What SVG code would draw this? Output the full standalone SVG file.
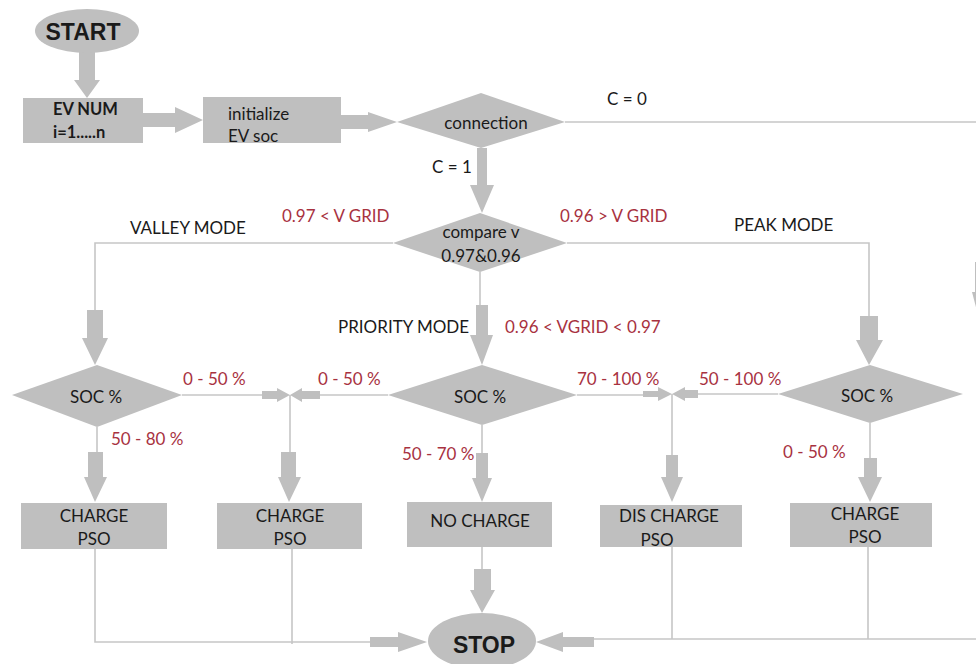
<svg xmlns="http://www.w3.org/2000/svg" width="976" height="664" viewBox="0 0 976 664">
  <style>
    .shape { fill: #bfbfbf; }
    .link { fill: none; stroke: #c6c6c6; stroke-width: 1.6; }
    .block { fill: #bfbfbf; }
    text { font-family: Lato, "Liberation Sans", sans-serif; font-size: 17px; fill: #1a1a1a; }
    .bold { font-weight: bold; font-size: 16.5px; }
    .term { font-family: "Liberation Sans", Arial, sans-serif; font-weight: bold; font-size: 23px; }
    .mid { text-anchor: middle; }
    .cond { fill: #a8323f; }
  </style>
  <rect width="976" height="664" fill="#ffffff"/>

  <!-- connectors: thin routing lines and block arrows -->
  <g id="connectors">
    <path class="link" d="M565 122 H976" stroke-width="2"/>
    <path class="link" d="M393 243 H95 V312"/>
    <path class="link" d="M567 243 H869 V318"/>
    <path class="link" d="M480 272 V307"/>
    <path class="link" d="M182 395 H264"/>
    <path class="link" d="M388 395 H318"/>
    <path class="link" d="M290 395 V454"/>
    <path class="link" d="M97 427 V454"/>
    <path class="link" d="M577 395 H645"/>
    <path class="link" d="M778 394 H696"/>
    <path class="link" d="M672 394 V457"/>
    <path class="link" d="M482 425 V455"/>
    <path class="link" d="M870 423 V460"/>
    <path class="link" d="M95 549 V642 H372"/>
    <path class="link" d="M292 549 V644"/>
    <path class="link" d="M672 547 V639"/>
    <path class="link" d="M868 547 V639"/>
    <path class="link" d="M592 639 H976"/>
    <path class="link" d="M482 547 V571"/>

    <!-- downward block arrows -->
    <polygon class="block" points="79,52 95,52 95,80 100,80 87,98 74,80 79,80"/>
    <polygon class="block" points="477,148 487,148 487,185 494,185 482,213 470,185 477,185"/>
    <polygon class="block" points="87,310 103,310 103,338 108,338 95,365 82,338 87,338"/>
    <polygon class="block" points="476,305 488,305 488,335 493,335 482,365 470,335 476,335"/>
    <polygon class="block" points="860,316 878,316 878,340 883,340 869,365 856,340 860,340"/>
    <polygon class="block" points="88,452 103,452 103,477 107,477 95,502 84,477 88,477"/>
    <polygon class="block" points="281,452 296,452 296,477 301,477 289,502 278,477 281,477"/>
    <polygon class="block" points="476,453 488,453 488,478 492,478 482,502 472,478 476,478"/>
    <polygon class="block" points="666,455 678,455 678,477 683,477 672,502 661,477 666,477"/>
    <polygon class="block" points="864,458 877,458 877,477 882,477 870,502 858,477 864,477"/>
    <polygon class="block" points="474,569 491,569 491,590 495,590 482,613 470,590 474,590"/>
    <!-- partial arrow at the right edge -->
    <rect class="block" x="975" y="262" width="10" height="30"/>
    <polygon class="block" points="972,292 992,292 982,330"/>

    <!-- horizontal block arrows -->
    <polygon class="block" points="143,113 175,113 175,107 203,120 175,133 175,127 143,127"/>
    <polygon class="block" points="341,115 368,115 368,112 397,122 368,132 368,129 341,129"/>
    <polygon class="block" points="262,391 277,391 277,388 290,395 277,402 277,399 262,399"/>
    <polygon class="block" points="320,391 302,391 302,388 290,395 302,402 302,399 320,399"/>
    <polygon class="block" points="643,391 658,391 658,387 672,394 658,401 658,397 643,397"/>
    <polygon class="block" points="698,390 685,390 685,387 672,394 685,401 685,398 698,398"/>
    <polygon class="block" points="370,637 398,637 398,632 427,642 398,652 398,647 370,647"/>
    <polygon class="block" points="594,637 563,637 563,632 536,642 563,652 563,647 594,647"/>
  </g>

  <g id="start">
    <ellipse class="shape" cx="87" cy="31" rx="52" ry="22"/>
    <text class="term mid" x="83" y="40">START</text>
  </g>

  <g id="ev-num">
    <rect class="shape" x="23" y="98" width="120" height="45"/>
    <text class="bold" x="53" y="115">EV NUM</text>
    <text class="bold" x="53" y="138">i=1.....n</text>
  </g>

  <g id="init-soc">
    <rect class="shape" x="203" y="97" width="138" height="46"/>
    <text x="228" y="120">initialize</text>
    <text x="228" y="142">EV soc</text>
  </g>

  <g id="connection">
    <polygon class="shape" points="397,122 481,93 565,122 481,148"/>
    <text class="mid" x="486" y="129">connection</text>
    <text x="607" y="105">C = 0</text>
    <text x="432" y="173">C = 1</text>
  </g>

  <g id="compare">
    <polygon class="shape" points="393,243 480,213 567,243 480,272"/>
    <text class="mid" x="481" y="238">compare v</text>
    <text class="mid" x="481" y="262">0.97&amp;0.96</text>
    <text class="cond" x="282" y="222">0.97 &lt; V GRID</text>
    <text class="cond" x="560" y="222">0.96 &gt; V GRID</text>
    <text x="130" y="234">VALLEY MODE</text>
    <text x="734" y="231">PEAK MODE</text>
    <text x="338" y="333">PRIORITY MODE</text>
    <text class="cond" x="505" y="333">0.96 &lt; VGRID &lt; 0.97</text>
  </g>

  <g id="soc-valley">
    <polygon class="shape" points="12,395 97,365 182,395 97,427"/>
    <text class="mid" x="96" y="403">SOC %</text>
    <text class="cond" x="183" y="385">0 - 50 %</text>
    <text class="cond" x="111" y="445">50 - 80 %</text>
  </g>

  <g id="soc-priority">
    <polygon class="shape" points="388,395 482,365 577,395 482,425"/>
    <text class="mid" x="480" y="403">SOC %</text>
    <text class="cond" x="318" y="385">0 - 50 %</text>
    <text class="cond" x="577" y="385">70 - 100 %</text>
    <text class="cond" x="402" y="460">50 - 70 %</text>
  </g>

  <g id="soc-peak">
    <polygon class="shape" points="778,394 870,365 963,394 870,423"/>
    <text class="mid" x="867" y="402">SOC %</text>
    <text class="cond" x="699" y="385">50 - 100 %</text>
    <text class="cond" x="783" y="458">0 - 50 %</text>
  </g>

  <g id="charge-valley">
    <rect class="shape" x="21" y="503" width="146" height="46"/>
    <text class="mid" x="94" y="522">CHARGE</text>
    <text class="mid" x="94" y="545">PSO</text>
  </g>

  <g id="charge-priority">
    <rect class="shape" x="217" y="503" width="145" height="46"/>
    <text class="mid" x="290" y="522">CHARGE</text>
    <text class="mid" x="290" y="545">PSO</text>
  </g>

  <g id="no-charge">
    <rect class="shape" x="407" y="502" width="145" height="45"/>
    <text class="mid" x="480" y="527">NO CHARGE</text>
  </g>

  <g id="discharge">
    <rect class="shape" x="600" y="505" width="142" height="42"/>
    <text class="mid" x="669" y="522">DIS CHARGE</text>
    <text class="mid" x="657" y="546">PSO</text>
  </g>

  <g id="charge-peak">
    <rect class="shape" x="790" y="503" width="142" height="44"/>
    <text class="mid" x="865" y="520">CHARGE</text>
    <text class="mid" x="865" y="543">PSO</text>
  </g>

  <g id="stop">
    <ellipse class="shape" cx="482" cy="641" rx="54" ry="28"/>
    <text class="term mid" x="484" y="653">STOP</text>
  </g>
</svg>
